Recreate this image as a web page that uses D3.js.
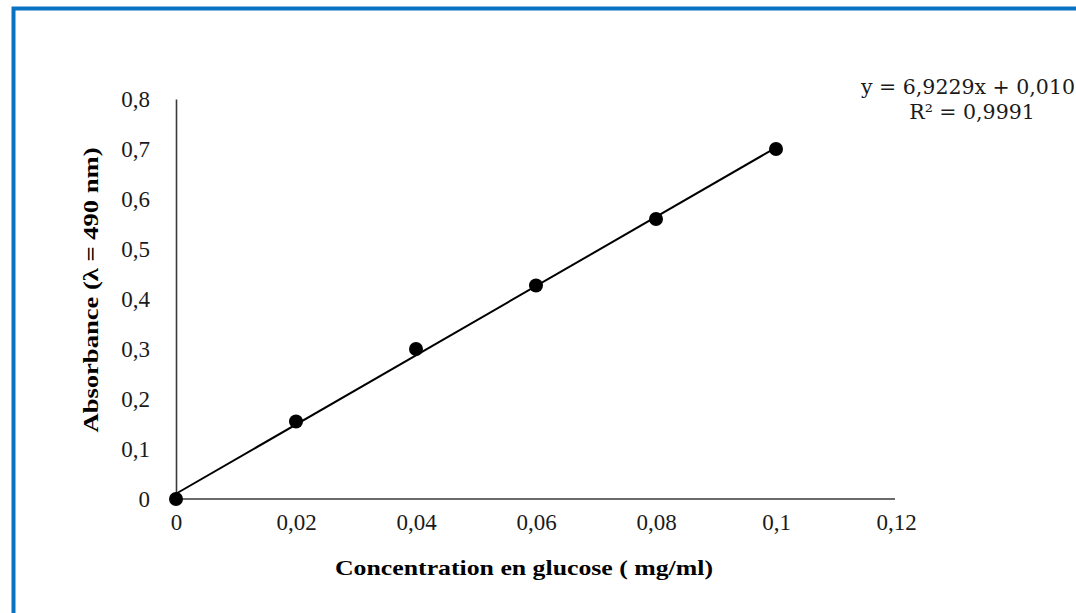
<!DOCTYPE html>
<html>
<head>
<meta charset="utf-8">
<script src="https://cdn.jsdelivr.net/npm/d3@7"></script>
<style>
  html, body { margin: 0; padding: 0; background: #fff; }
  svg { display: block; }
</style>
</head>
<body>
<svg id="chart" width="1076" height="613"></svg>
<script>
// data
var concentration = [0, 0.02, 0.04, 0.06, 0.08, 0.1];
var absorbance = [0, 0.155, 0.30, 0.427, 0.56, 0.70];
var xTicks = [0, 0.02, 0.04, 0.06, 0.08, 0.1, 0.12];
var yTicks = [0, 0.1, 0.2, 0.3, 0.4, 0.5, 0.6, 0.7, 0.8];
var slope = 6.9229, intercept = 0.0105;
var eqLabel = "y = 6,9229x + 0,0105";
var r2Label = "R\u00b2 = 0,9991";

var svg = d3.select("#chart");
var serif = "'Liberation Serif', 'Times New Roman', serif";

// blue frame of the figure
svg.append("rect")
  .attr("x", 13.5).attr("y", 8.5)
  .attr("width", 1200).attr("height", 800)
  .attr("fill", "none")
  .attr("stroke", "#0a72c2")
  .attr("stroke-width", 4);

var x = d3.scaleLinear().domain([0, 0.12]).range([176, 896]);
var y = d3.scaleLinear().domain([0, 0.8]).range([499, 99]);

var fmt = function(d){ return String(+d.toFixed(2)).replace(".", ","); };

// axes
var xAxis = svg.append("g")
  .attr("transform", "translate(0," + y(0) + ")")
  .call(d3.axisBottom(x).tickValues(xTicks).tickFormat(fmt).tickSize(0).tickPadding(15));
var yAxis = svg.append("g")
  .attr("transform", "translate(" + x(0) + ",0)")
  .call(d3.axisLeft(y).tickValues(yTicks).tickFormat(fmt).tickSize(0).tickPadding(26));

[xAxis, yAxis].forEach(function(g){
  g.select(".domain").attr("stroke", "#3a3a3a").attr("stroke-width", 1.6);
  g.selectAll("text")
    .attr("font-family", serif)
    .attr("font-size", 23)
    .attr("fill", "#1a1a1a");
});
xAxis.select(".domain").attr("d", "M" + x(0) + ",0H895");

// trend line
var fit = [0, 0.1].map(function(c){ return [c, slope * c + intercept]; });
svg.append("path")
  .datum(fit)
  .attr("d", d3.line().x(function(d){ return x(d[0]); }).y(function(d){ return y(d[1]); }))
  .attr("stroke", "#000")
  .attr("stroke-width", 2)
  .attr("fill", "none");

// points
svg.selectAll("circle.pt")
  .data(concentration.map(function(c, i){ return [c, absorbance[i]]; }))
  .enter().append("circle")
  .attr("class", "pt")
  .attr("cx", function(d){ return x(d[0]); })
  .attr("cy", function(d){ return y(d[1]); })
  .attr("r", 7)
  .attr("fill", "#000");

// axis titles
svg.append("text")
  .attr("x", 524).attr("y", 575)
  .attr("text-anchor", "middle")
  .attr("font-family", serif)
  .attr("font-weight", "bold")
  .attr("font-size", 22)
  .attr("textLength", 378)
  .attr("lengthAdjust", "spacingAndGlyphs")
  .text("Concentration en glucose ( mg/ml)");

svg.append("text")
  .attr("transform", "translate(98,290) rotate(-90)")
  .attr("text-anchor", "middle")
  .attr("font-family", serif)
  .attr("font-weight", "bold")
  .attr("font-size", 22)
  .attr("textLength", 285)
  .attr("lengthAdjust", "spacingAndGlyphs")
  .text("Absorbance (\u03bb = 490 nm)");

// equation (runs past the right edge, as in the original)
var eqFont = "'DejaVu Serif', serif";
svg.append("text")
  .attr("x", 861).attr("y", 94)
  .attr("font-family", eqFont)
  .attr("font-size", 20.5)
  .attr("fill", "#1a1a1a")
  .text(eqLabel);
svg.append("text")
  .attr("x", 972).attr("y", 119)
  .attr("text-anchor", "middle")
  .attr("font-family", eqFont)
  .attr("font-size", 20.5)
  .attr("fill", "#1a1a1a")
  .text(r2Label);
</script>
</body>
</html>
